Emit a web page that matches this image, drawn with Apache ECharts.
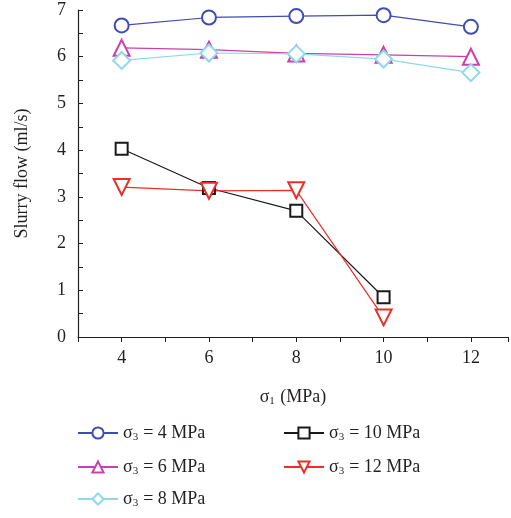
<!DOCTYPE html>
<html>
<head>
<meta charset="utf-8">
<script src="https://cdn.jsdelivr.net/npm/echarts@6/dist/echarts.min.js"></script>
<style>
  html, body { margin: 0; padding: 0; background: #fff; }
  #chart { width: 511px; height: 518px; }
</style>
</head>
<body>
<div id="chart"></div>
<script>
const sigma1 = [4, 6, 8, 10, 12]
const sigma3Labels = ['4', '6', '8', '10', '12']
const flow4 = [6.67, 6.84, 6.87, 6.89, 6.64]
const flow6 = [6.19, 6.15, 6.07, 6.04, 6.0]
const flow8 = [5.92, 6.08, 6.06, 5.95, 5.66]
const flow10 = [4.03, 3.19, 2.7, 0.85]
const flow12 = [3.21, 3.13, 3.14, 0.42]

const font = 'Liberation Serif'
const ink = '#231f20'

const pairs = (ys) => ys.map((y, i) => [sigma1[i], y])

const seriesDefs = [
  { label: sigma3Labels[0], data: flow4, color: '#3f4cb3', symbol: 'emptyCircle', size: 14, rotate: 0 },
  { label: sigma3Labels[1], data: flow6, color: '#c940b0', symbol: 'emptyTriangle', size: 16, rotate: 0 },
  { label: sigma3Labels[2], data: flow8, color: '#8fd8e8', symbol: 'emptyDiamond', size: 17, rotate: 0 },
  { label: sigma3Labels[3], data: flow10, color: '#1a1a1a', symbol: 'emptyRect', size: 12, rotate: 0 },
  { label: sigma3Labels[4], data: flow12, color: '#e8302a', symbol: 'emptyTriangle', size: 16, rotate: 180 },
]

const series = seriesDefs.map((d) => ({
  type: 'line',
  name: d.label,
  data: pairs(d.data),
  symbol: d.symbol,
  symbolSize: d.size,
  symbolRotate: d.rotate,
  lineStyle: { color: d.color, width: 1.2 },
  itemStyle: { color: d.color, borderWidth: 1.4 },
  emphasis: { disabled: true },
  animation: false,
}))

const legendText = {
  fontFamily: font,
  fontSize: 18,
  color: ink,
  rich: {
    t: { fontFamily: font, fontSize: 18, color: ink },
    s: { fontFamily: font, fontSize: 11, color: ink, verticalAlign: 'bottom', padding: [9, 5, 0, 0] },
  },
}
// one legend per entry, laid out as two columns like the figure
const legendSpots = [
  [77, 424], [77, 458], [77, 490], [283, 424], [283, 458],
]
const legends = sigma3Labels.map((name, i) => ({
  orient: 'vertical',
  left: legendSpots[i][0],
  top: legendSpots[i][1],
  padding: 0,
  itemWidth: 40,
  itemHeight: 14,
  itemGap: 4,
  data: [name],
  textStyle: legendText,
  formatter: (n) => '{t|σ}{s|3}{t|= ' + n + ' MPa}',
  selectedMode: false,
}))

const chart = echarts.init(document.getElementById('chart'))
chart.setOption({
  animation: false,
  grid: { left: 78, top: 10, right: 1, bottom: 181, containLabel: false },
  legend: legends,
  xAxis: {
    type: 'value',
    min: 3,
    max: 12.85,
    interval: 1,
    name: '{t|σ}{s|1}{t| (MPa)}',
    nameLocation: 'middle',
    nameGap: 50,
    nameTextStyle: {
      rich: {
        t: { fontFamily: font, fontSize: 18, color: ink },
        s: { fontFamily: font, fontSize: 11, color: ink, verticalAlign: 'bottom', padding: [9, 1, 0, 0] },
      },
    },
    axisLine: { lineStyle: { color: ink, width: 1.2 } },
    axisTick: { show: true, inside: false, length: 5, lineStyle: { color: ink } },
    axisLabel: {
      fontFamily: font, fontSize: 18, color: ink, margin: 12,
      formatter: (v) => (v % 2 === 0 && v >= 4 ? String(v) : ''),
    },
    splitLine: { show: false },
  },
  yAxis: {
    type: 'value',
    min: 0,
    max: 7,
    interval: 1,
    name: 'Slurry flow (ml/s)',
    nameLocation: 'middle',
    nameGap: 47,
    nameTextStyle: { fontFamily: font, fontSize: 18, color: ink },
    axisLine: { show: true, lineStyle: { color: ink, width: 1.2 } },
    axisTick: { show: true, inside: true, length: 5, lineStyle: { color: ink } },
    minorTick: { show: true, splitNumber: 2, length: 5, lineStyle: { color: ink } },
    axisLabel: { fontFamily: font, fontSize: 18, color: ink, margin: 12 },
    splitLine: { show: false },
  },
  series,
})
</script>
</body>
</html>
